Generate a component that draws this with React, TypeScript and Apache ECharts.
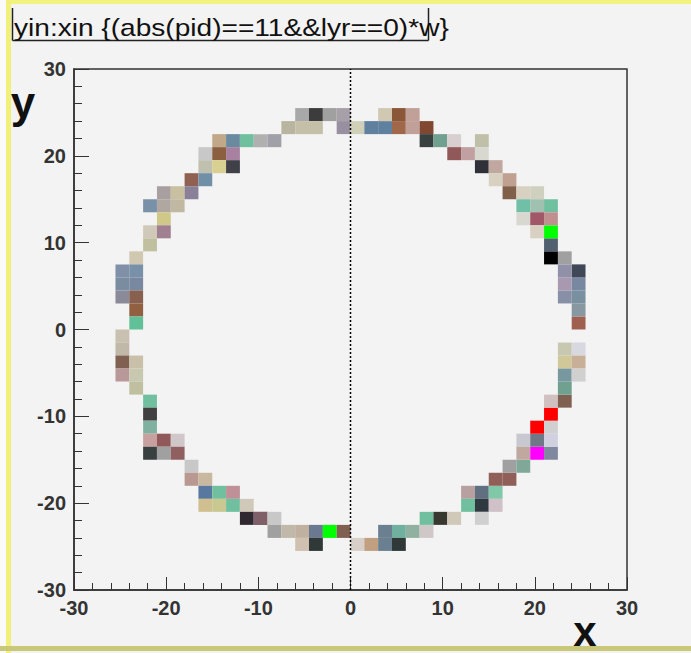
import React, { useEffect, useRef } from "react";
import * as echarts from "echarts";

// Histogram bin width (data units); each cell is [xLow, yLow, colour]
const BIN = 1.5;
const AXIS_MIN = -30;
const AXIS_MAX = 30;
const TICK_STEP = 10;

type Cell = [number, number, string];

const topLeftCells: Cell[] = [
  [-6, 24, "#a8a8a8"], [-4.5, 24, "#3c3c3c"], [-3, 24, "#a0a0a0"], [-1.5, 24, "#a8a0a8"],
  [-7.5, 22.5, "#b8b4a0"], [-6, 22.5, "#c4c0a8"], [-4.5, 22.5, "#c4c0a8"], [-1.5, 22.5, "#9890a0"],
  [-15, 21, "#c0a888"], [-13.5, 21, "#6a8aa0"], [-12, 21, "#70c0a0"], [-10.5, 21, "#b0b0b0"], [-9, 21, "#a0a0a8"],
  [-16.5, 19.5, "#c8c8c8"], [-15, 19.5, "#8a6040"], [-13.5, 19.5, "#a880a0"],
  [-16.5, 18, "#c0c0b0"], [-15, 18, "#d8d090"], [-13.5, 18, "#404048"],
  [-18, 16.5, "#906050"], [-16.5, 16.5, "#7090a8"],
  [-21, 15, "#a8a0a0"], [-19.5, 15, "#c8c0a0"], [-18, 15, "#8a8098"],
  [-22.5, 13.5, "#7890a8"], [-21, 13.5, "#b0a8a0"], [-19.5, 13.5, "#c0b8a0"],
  [-21, 12, "#d0c888"],
  [-22.5, 10.5, "#d0c8b8"], [-21, 10.5, "#a08090"],
  [-22.5, 9, "#c0c0a0"],
];

const leftCells: Cell[] = [
  [-24, 7.5, "#d0c8b0"],
  [-25.5, 6, "#8090a8"], [-25.5, 4.5, "#7a8ca0"], [-25.5, 3, "#8a8a98"],
  [-24, 6, "#7890a8"], [-24, 4.5, "#7888a0"], [-24, 3, "#886050"], [-24, 1.5, "#906040"], [-24, 0, "#60c098"],
  [-25.5, -1.5, "#c8c0b0"], [-25.5, -3, "#c0b8a8"], [-25.5, -4.5, "#806050"], [-25.5, -6, "#b89898"],
  [-24, -4.5, "#c8c0a8"], [-24, -6, "#c8c8b0"], [-24, -7.5, "#c0c0a0"],
  [-22.5, -9, "#70c0a0"], [-22.5, -10.5, "#404040"], [-22.5, -12, "#80b0a0"],
];

const bottomLeftCells: Cell[] = [
  [-22.5, -13.5, "#c8a0a0"], [-21, -13.5, "#905858"], [-19.5, -13.5, "#d0c8c8"],
  [-22.5, -15, "#384040"], [-21, -15, "#a0a0a0"], [-19.5, -15, "#906060"],
  [-18, -16.5, "#c8c8c8"],
  [-18, -18, "#b89890"], [-16.5, -18, "#c8b8a0"],
  [-16.5, -19.5, "#5878a0"], [-15, -19.5, "#70c0a0"], [-13.5, -19.5, "#c09098"],
  [-16.5, -21, "#d0c090"], [-15, -21, "#c8c890"], [-13.5, -21, "#70c0a0"], [-12, -21, "#d0c8b8"],
  [-12, -22.5, "#302830"], [-10.5, -22.5, "#806068"], [-9, -22.5, "#c8c8c8"],
  [-9, -24, "#a0a0a0"], [-7.5, -24, "#c0b8a8"], [-6, -24, "#c0b0a0"], [-4.5, -24, "#6a7890"], [-3, -24, "#00ff00"], [-1.5, -24, "#806050"],
  [-6, -25.5, "#d0c0b0"], [-4.5, -25.5, "#303838"],
];

const bottomRightCells: Cell[] = [
  [0, -25.5, "#d8d0c8"], [1.5, -25.5, "#c0a080"], [3, -25.5, "#6a8090"], [3, -24, "#6a8090"],
  [4.5, -24, "#70b0a0"], [4.5, -25.5, "#303838"], [6, -24, "#90b0a0"], [7.5, -24, "#d0c8c8"],
  [7.5, -22.5, "#70c0a0"], [9, -22.5, "#383830"], [10.5, -22.5, "#d0c8b8"],
  [12, -19.5, "#b8a0a0"], [12, -21, "#70c0a0"], [13.5, -19.5, "#607080"], [13.5, -21, "#303840"], [13.5, -22.5, "#d0d0d0"],
  [15, -19.5, "#80c8a8"], [15, -21, "#d0c0c8"],
  [15, -18, "#906058"], [16.5, -18, "#906058"],
  [16.5, -16.5, "#a0a0a0"], [18, -16.5, "#80a898"],
  [18, -13.5, "#c8c8d0"], [18, -15, "#c0a8a0"], [19.5, -15, "#ff00ff"], [21, -15, "#8088a0"],
  [19.5, -13.5, "#707888"], [21, -13.5, "#d0d0e0"], [19.5, -12, "#ff0000"], [21, -12, "#d0d0d0"], [21, -10.5, "#ff0000"],
  [21, -9, "#d0c0c0"], [22.5, -9, "#806050"], [22.5, -7.5, "#70a090"],
];

const rightCells: Cell[] = [
  [22.5, -3, "#c8c8b0"], [22.5, -4.5, "#d0c898"], [22.5, -6, "#7898a0"],
  [24, -3, "#d8d8e0"], [24, -4.5, "#c8b098"], [24, -6, "#d0d0d0"],
  [24, 0, "#a06050"], [24, 1.5, "#8898a0"], [24, 3, "#7890a0"], [24, 4.5, "#7888a0"], [24, 6, "#404858"],
  [22.5, 3, "#8890a8"], [22.5, 4.5, "#a898b0"], [22.5, 6, "#9090a8"], [22.5, 7.5, "#a0a0a0"],
  [21, 7.5, "#000000"], [21, 9, "#506070"], [21, 10.5, "#00ff00"],
];

const topRightCells: Cell[] = [
  [0, 22.5, "#d0d0b8"], [1.5, 22.5, "#6080a0"], [3, 22.5, "#6080a0"], [3, 24, "#d0c8b0"],
  [4.5, 24, "#8a5838"], [4.5, 22.5, "#a06848"], [6, 24, "#c0a098"], [6, 22.5, "#c0a098"],
  [7.5, 22.5, "#804830"], [7.5, 21, "#384040"], [9, 21, "#70a090"], [10.5, 21, "#d8d0d0"],
  [10.5, 19.5, "#905858"], [12, 19.5, "#c0a0a0"], [13.5, 21, "#c0c0a8"], [13.5, 19.5, "#d8d8d0"],
  [13.5, 18, "#303038"], [15, 18, "#c0a8a0"],
  [15, 16.5, "#d8d0c0"], [16.5, 16.5, "#c0a090"], [16.5, 15, "#806048"], [18, 15, "#d8d0c0"], [19.5, 15, "#d0d0c0"],
  [18, 13.5, "#70c0a8"], [19.5, 13.5, "#a0c0b0"], [21, 13.5, "#70c0a0"],
  [18, 12, "#d8d8d0"], [19.5, 12, "#a05868"], [21, 12, "#c09090"],
  [19.5, 10.5, "#d8d0c0"],
];

const TITLE = "yin:xin {(abs(pid)==11&&lyr==0)*w}";

export default function App() {
  const ref = useRef<HTMLDivElement>(null);

  useEffect(() => {
    document.body.style.margin = "0";
    if (!ref.current) return;
    const chart = echarts.init(ref.current, undefined, { renderer: "svg" });
    const allCells = [
      ...topLeftCells, ...leftCells, ...bottomLeftCells,
      ...bottomRightCells, ...rightCells, ...topRightCells,
    ];
    const data = allCells.map((c) => ({ value: [c[0], c[1]], itemStyle: { color: c[2] } }));

    const axisCommon = {
      type: "value" as const,
      min: AXIS_MIN,
      max: AXIS_MAX,
      interval: TICK_STEP,
      splitLine: { show: false },
      axisLine: { show: true, onZero: false, lineStyle: { color: "#333", width: 1.5 } },
      axisLabel: {
        color: "#333",
        fontSize: 20,
        fontWeight: "bold" as const,
        fontFamily: "Liberation Sans, Arial, sans-serif",
        margin: 8,
      },
    };

    chart.setOption({
      animation: false,
      backgroundColor: "#f3f3f3",
      grid: {
        left: 74, right: 64, top: 69, bottom: 63,
        show: true, borderColor: "#333", borderWidth: 1.5, backgroundColor: "transparent",
      },
      xAxis: {
        ...axisCommon,
        axisTick: { inside: true, length: 13, lineStyle: { color: "#333" } },
        minorTick: { show: true, splitNumber: 5, length: 7, lineStyle: { color: "#333" } },
      },
      yAxis: {
        ...axisCommon,
        axisTick: { inside: true, length: 15, lineStyle: { color: "#333" } },
        minorTick: { show: true, splitNumber: 5, length: 8, lineStyle: { color: "#333" } },
      },
      series: [
        {
          type: "custom",
          data,
          renderItem: (params: any, api: any) => {
            const x = api.value(0);
            const y = api.value(1);
            const p1 = api.coord([x, y + BIN]);
            const p2 = api.coord([x + BIN, y]);
            return {
              type: "rect",
              shape: { x: p1[0], y: p1[1], width: p2[0] - p1[0], height: p2[1] - p1[1] },
              style: { fill: api.visual("color") },
            };
          },
        },
        {
          type: "line",
          data: [[0, AXIS_MIN], [0, AXIS_MAX]],
          symbol: "none",
          lineStyle: { color: "#000", width: 1.5, type: [2, 2] },
          z: 5,
        },
      ],
      graphic: [
        { type: "rect", shape: { x: 0, y: 0, width: 691, height: 4 }, style: { fill: "#f2f27e" } },
        { type: "rect", shape: { x: 0, y: 0, width: 6, height: 653 }, style: { fill: "#fafafa" } },
        { type: "rect", shape: { x: 6, y: 0, width: 5, height: 653 }, style: { fill: "#f0f07a" } },
        { type: "rect", shape: { x: 0, y: 646, width: 691, height: 5 }, style: { fill: "#c8c878" } },
        { type: "line", shape: { x1: 12.5, y1: 8, x2: 12.5, y2: 40.5 }, style: { stroke: "#222", lineWidth: 1.5 } },
        { type: "line", shape: { x1: 12.5, y1: 40.5, x2: 428.5, y2: 40.5 }, style: { stroke: "#222", lineWidth: 1.5 } },
        { type: "line", shape: { x1: 428.5, y1: 8, x2: 428.5, y2: 40.5 }, style: { stroke: "#222", lineWidth: 1.5 } },
        {
          type: "text", x: 14, y: 28, scaleX: 1.17,
          style: {
            text: TITLE, fill: "#111", fontSize: 24,
            fontFamily: "Liberation Sans, Arial, sans-serif",
            verticalAlign: "middle", align: "left",
          },
        },
        {
          type: "text", x: 23, y: 102,
          style: {
            text: "y", fill: "#111", fontSize: 44, fontWeight: "bold",
            fontFamily: "Liberation Sans, Arial, sans-serif",
            verticalAlign: "middle", align: "center",
          },
        },
        {
          type: "text", x: 585, y: 652,
          style: {
            text: "x", fill: "#111", fontSize: 42, fontWeight: "bold", lineHeight: 42,
            fontFamily: "Liberation Sans, Arial, sans-serif",
            verticalAlign: "bottom", align: "center",
          },
        },
      ],
    });
    return () => chart.dispose();
  }, []);

  return <div ref={ref} style={{ width: 691, height: 653 }} />;
}
